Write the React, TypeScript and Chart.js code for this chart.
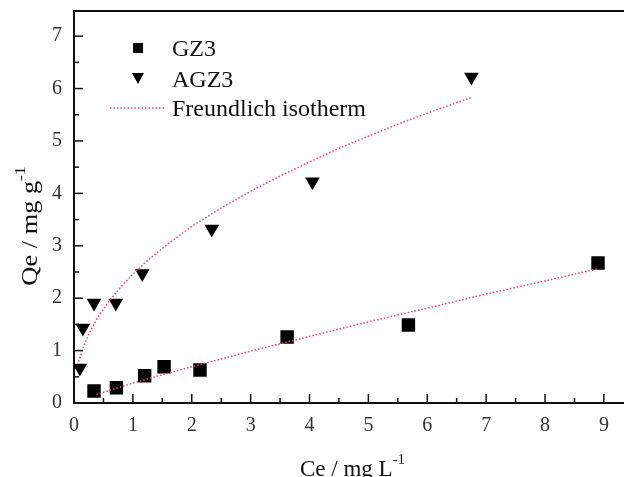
import React, { useEffect, useRef } from "react";
import { Chart, registerables } from "chart.js";

Chart.register(...registerables);

const gz3X = [0.34, 0.72, 1.2, 1.53, 2.14, 3.62, 5.68, 8.9];
const gz3Y = [0.23, 0.29, 0.52, 0.69, 0.63, 1.26, 1.49, 2.67];
const agz3X = [0.1, 0.15, 0.34, 0.71, 1.16, 2.34, 4.05, 6.75];
const agz3Y = [0.67, 1.43, 1.91, 1.91, 2.47, 3.32, 4.22, 6.22];
const fitAgzX = [0.08, 0.15, 0.25, 0.4, 0.6, 0.8, 1.0, 1.3, 1.6, 2.0, 2.5, 3.0, 3.5, 4.0, 4.5, 5.0, 5.5, 6.0, 6.75];
const fitAgzY = [0.79, 1.04, 1.31, 1.63, 1.95, 2.22, 2.46, 2.77, 3.04, 3.37, 3.72, 4.04, 4.33, 4.6, 4.86, 5.09, 5.32, 5.53, 5.83];
const fitGzX = [0.38, 0.7, 1.0, 1.5, 2, 3, 4, 5, 6, 7, 8, 8.9];
const fitGzY = [0.16, 0.275, 0.38, 0.54, 0.69, 0.99, 1.27, 1.55, 1.81, 2.08, 2.33, 2.56];
const xTicks = [0, 1, 2, 3, 4, 5, 6, 7, 8, 9];
const yTicks = [0, 1, 2, 3, 4, 5, 6, 7];
const legendLabels = ["GZ3", "AGZ3", "Freundlich isotherm"];
const xTitle = ["Ce / mg L", "-1"];
const yTitle = ["Qe / mg g", "-1"];

const FIT_COLOR = "#e8457a";
const SERIF = "'Liberation Serif', 'Times New Roman', serif";

const zip = (xs: number[], ys: number[]) => xs.map((x, i) => ({ x, y: ys[i] }));

const decorPlugin = {
  id: "decor",
  afterDraw(chart: any) {
    const ctx = chart.ctx;
    const { left, right, top, bottom } = chart.chartArea;
    const xs = chart.scales.x;
    const ys = chart.scales.y;
    ctx.save();
    ctx.strokeStyle = "#111";
    ctx.lineWidth = 2;
    ctx.beginPath();
    ctx.moveTo(left - 1, top);
    ctx.lineTo(right, top);
    ctx.stroke();
    ctx.lineWidth = 1.5;
    for (let v = 0; v <= xs.max + 1e-9; v += 0.5) {
      const px = xs.getPixelForValue(v);
      const len = Number.isInteger(v) ? 9 : 5;
      ctx.beginPath();
      ctx.moveTo(px, bottom);
      ctx.lineTo(px, bottom - len);
      ctx.stroke();
    }
    for (let v = 0; v <= ys.max + 1e-9; v += 0.5) {
      const py = ys.getPixelForValue(v);
      const len = Number.isInteger(v) ? 9 : 5;
      ctx.beginPath();
      ctx.moveTo(left, py);
      ctx.lineTo(left + len, py);
      ctx.stroke();
    }
    // legend
    ctx.fillStyle = "#000";
    ctx.fillRect(133, 43, 10, 10);
    ctx.beginPath();
    ctx.moveTo(132, 73);
    ctx.lineTo(144, 73);
    ctx.lineTo(138, 84);
    ctx.closePath();
    ctx.fill();
    ctx.strokeStyle = FIT_COLOR;
    ctx.lineWidth = 1.5;
    ctx.setLineDash([1.5, 2]);
    ctx.beginPath();
    ctx.moveTo(110, 108);
    ctx.lineTo(164, 108);
    ctx.stroke();
    ctx.setLineDash([]);
    ctx.fillStyle = "#111";
    ctx.font = `24px ${SERIF}`;
    ctx.textBaseline = "middle";
    ctx.textAlign = "left";
    ctx.fillText(legendLabels[0], 172, 50);
    ctx.fillText(legendLabels[1], 172, 81);
    ctx.fillText(legendLabels[2], 172, 110);
    // x title
    ctx.textBaseline = "alphabetic";
    ctx.font = `23px ${SERIF}`;
    const xMain = ctx.measureText(xTitle[0]).width;
    const xStart = 300;
    ctx.fillText(xTitle[0], xStart, 476);
    ctx.font = `15px ${SERIF}`;
    ctx.fillText(xTitle[1], xStart + xMain, 464);
    // y title
    ctx.translate(37, 226);
    ctx.rotate(-Math.PI / 2);
    ctx.scale(1.15, 1);
    ctx.font = `23px ${SERIF}`;
    const yMain = ctx.measureText(yTitle[0]).width;
    ctx.font = `15px ${SERIF}`;
    const ySup = ctx.measureText(yTitle[1]).width;
    const yStart = -(yMain + ySup) / 2;
    ctx.font = `23px ${SERIF}`;
    ctx.fillText(yTitle[0], yStart, 0);
    ctx.font = `15px ${SERIF}`;
    ctx.fillText(yTitle[1], yStart + yMain, -12);
    ctx.restore();
  },
};

export default function App() {
  const ref = useRef<HTMLCanvasElement | null>(null);
  useEffect(() => {
    if (!ref.current) return;
    const chart = new Chart(ref.current, {
      type: "scatter",
      data: {
        datasets: [
          {
            label: "fitAGZ3",
            data: zip(fitAgzX, fitAgzY),
            showLine: true,
            pointRadius: 0,
            borderColor: FIT_COLOR,
            borderWidth: 1.5,
            borderDash: [1.5, 2],
            fill: false,
            tension: 0,
          },
          {
            label: "fitGZ3",
            data: zip(fitGzX, fitGzY),
            showLine: true,
            pointRadius: 0,
            borderColor: FIT_COLOR,
            borderWidth: 1.5,
            borderDash: [1.5, 2],
            fill: false,
            tension: 0,
          },
          {
            label: legendLabels[0],
            data: zip(gz3X, gz3Y),
            pointStyle: "rect",
            pointRadius: 9.5,
            pointBackgroundColor: "#000",
            pointBorderColor: "#000",
            pointBorderWidth: 0,
          },
          {
            label: legendLabels[1],
            data: zip(agz3X, agz3Y),
            pointStyle: "triangle",
            rotation: 180,
            pointRadius: 8.5,
            pointBackgroundColor: "#000",
            pointBorderColor: "#000",
            pointBorderWidth: 0,
          },
        ],
      },
      options: {
        responsive: false,
        animation: false,
        layout: { padding: { top: 11, left: 0, right: 0, bottom: 0 } },
        plugins: { legend: { display: false }, tooltip: { enabled: false }, title: { display: false } },
        scales: {
          x: {
            type: "linear",
            min: 0,
            max: 9.35,
            grid: { display: false },
            border: { display: true, color: "#111", width: 2 },
            ticks: {
              padding: 3,
              color: "#333",
              font: { family: SERIF, size: 20 },
            },
            afterBuildTicks: (s: any) => {
              s.ticks = xTicks.map((v) => ({ value: v }));
            },
            afterFit: (s: any) => {
              s.height = 74;
            },
          },
          y: {
            type: "linear",
            min: 0,
            max: 7.48,
            grid: { display: false },
            border: { display: true, color: "#111", width: 2 },
            ticks: {
              padding: 4,
              color: "#333",
              font: { family: SERIF, size: 20 },
            },
            afterBuildTicks: (s: any) => {
              s.ticks = yTicks.map((v) => ({ value: v }));
            },
            afterFit: (s: any) => {
              s.width = 74;
              s.paddingTop = 0;
              s.paddingBottom = 0;
            },
          },
        },
      },
      plugins: [decorPlugin],
    });
    return () => chart.destroy();
  }, []);
  return (
    <div style={{ position: "fixed", left: 0, top: 0, width: 624, height: 477, overflow: "hidden", background: "#fff" }}>
      <canvas ref={ref} width={634} height={477} style={{ display: "block" }} />
    </div>
  );
}
